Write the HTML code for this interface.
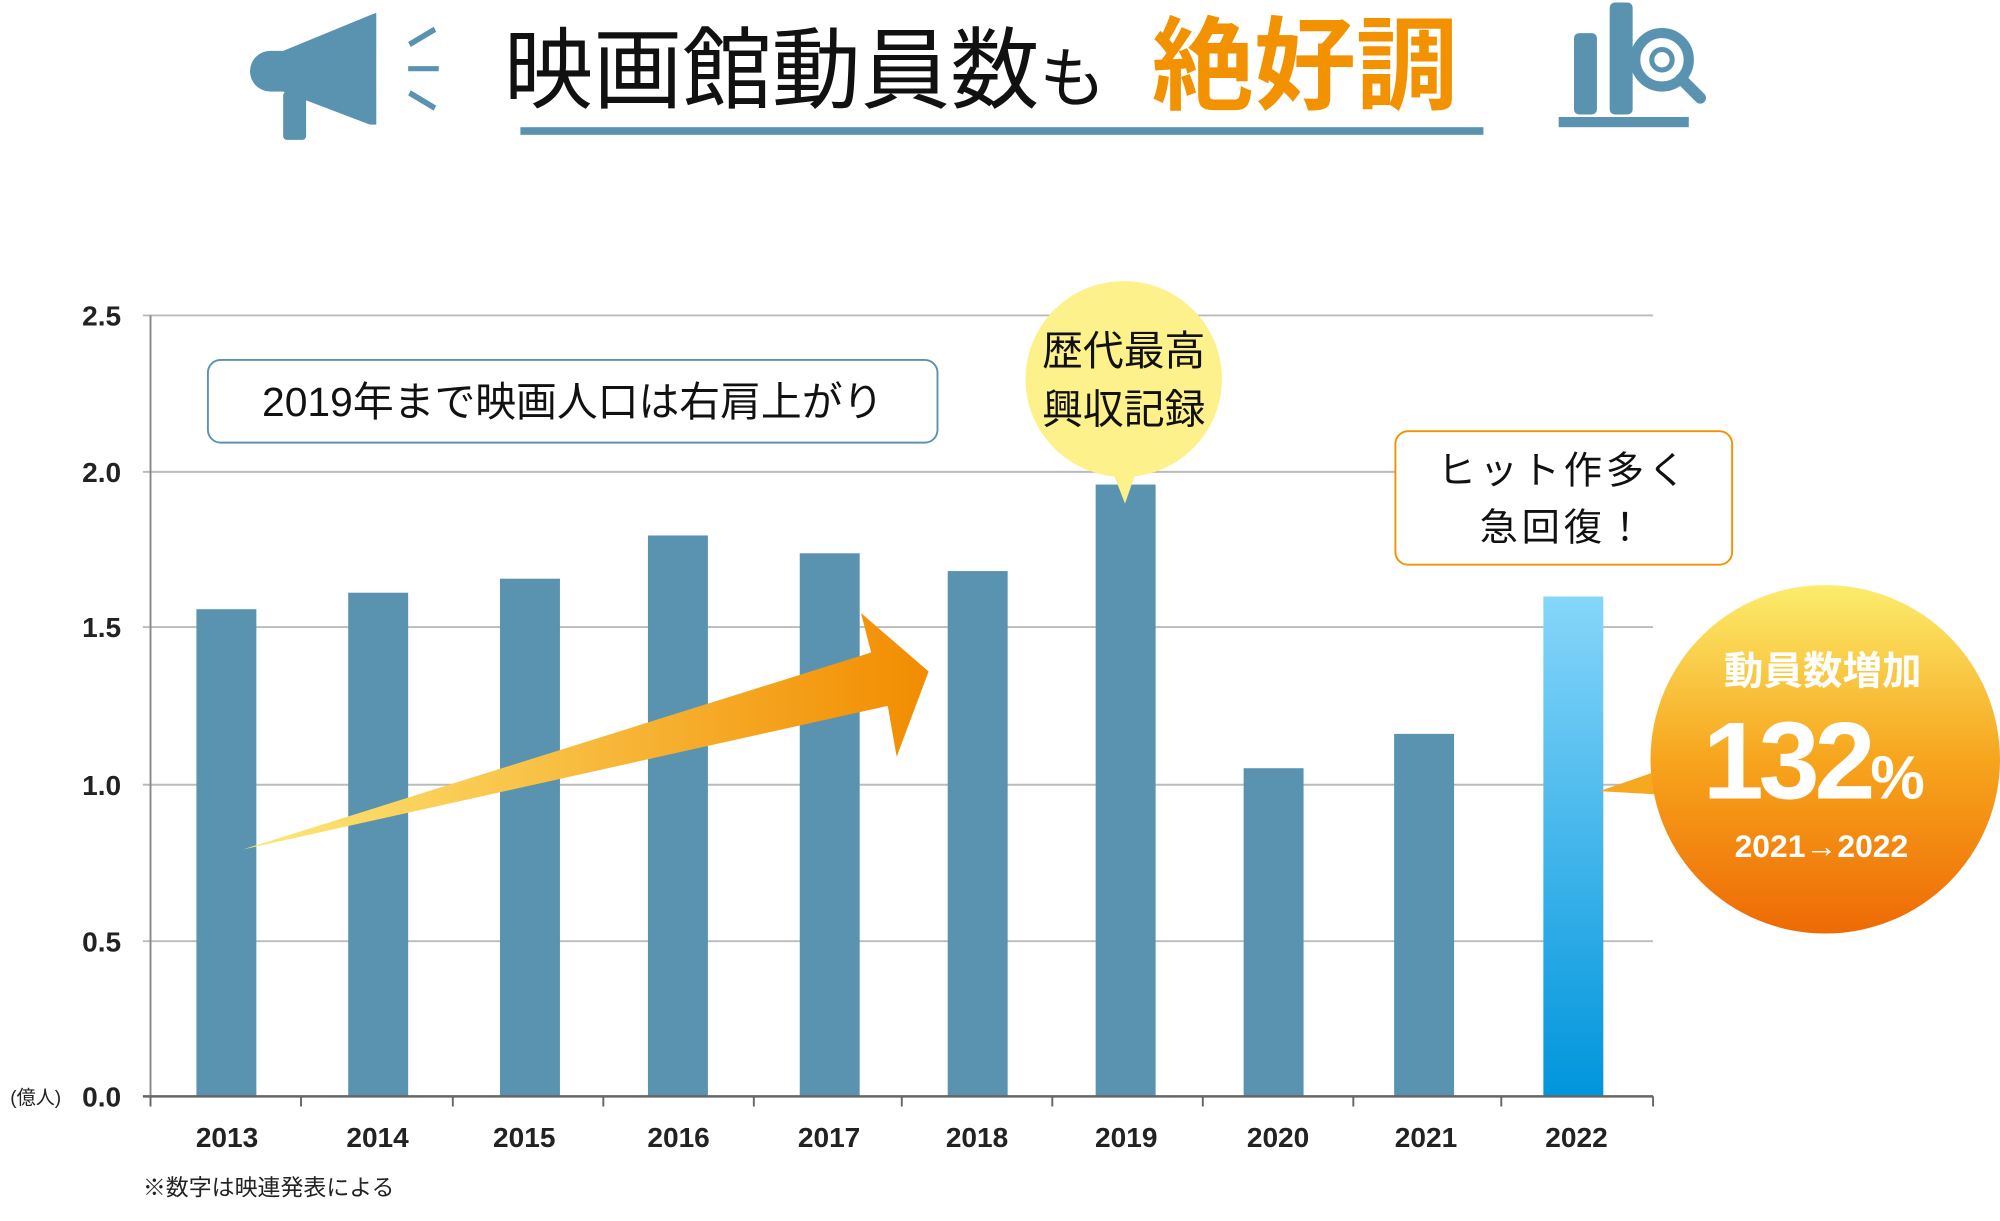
<!DOCTYPE html>
<html><head><meta charset="utf-8"><style>
html,body{margin:0;padding:0;background:#fff;width:2000px;height:1221px;overflow:hidden}
svg{display:block}
text{font-family:"Liberation Sans","Noto Sans CJK JP",sans-serif}
</style></head><body>
<svg width="2000" height="1221" viewBox="0 0 1568 960" preserveAspectRatio="none" xmlns="http://www.w3.org/2000/svg">
<defs>
<linearGradient id="arr" x1="0" y1="0" x2="1" y2="0"><stop offset="0" stop-color="#fde97a"/><stop offset="1" stop-color="#f28c00"/></linearGradient>
<linearGradient id="b22" x1="0" y1="0" x2="0" y2="1"><stop offset="0" stop-color="#86d6fa"/><stop offset="1" stop-color="#0095dc"/></linearGradient>
<linearGradient id="circ" x1="0" y1="0" x2="0" y2="1"><stop offset="0" stop-color="#fbed6c"/><stop offset="0.5" stop-color="#f7a51d"/><stop offset="1" stop-color="#ee6a05"/></linearGradient>
</defs>
<g fill="#5a93b0">
<path d="M222 40 L290 12 L295 10 L295 98 L290 98 L222 72 Z"/>
<circle cx="212" cy="56" r="16"/>
<rect x="212" y="40" width="20" height="32"/>
<rect x="222" y="72" width="18" height="38" rx="3"/>
<rect x="320" y="52" width="24" height="4"/>
<path d="M320 33 L340 21 L342 25 L322 37 Z"/>
<path d="M320 75 L340 87 L342 83 L322 71 Z"/>
<rect x="1234" y="26" width="18" height="64" rx="4"/>
<rect x="1262" y="2" width="18" height="88" rx="4"/>
<rect x="1222" y="92" width="102" height="8"/>
<rect x="408" y="100" width="755" height="6"/>
</g>
<circle cx="1303" cy="47" r="21" fill="#fff" stroke="#5a93b0" stroke-width="8"/>
<circle cx="1303" cy="47" r="8" fill="none" stroke="#5a93b0" stroke-width="4"/>
<path d="M1318 62 L1333 77" stroke="#5a93b0" stroke-width="9" stroke-linecap="round"/>
<text x="395" y="80" font-size="70" fill="#111">映画館動員数<tspan font-size="52">も</tspan></text>
<text x="903" y="80" font-size="80" font-weight="bold" fill="#f39200">絶好調</text>
<g stroke="#bbb" stroke-width="1.5">
<line x1="112" y1="248" x2="1296" y2="248"/><line x1="112" y1="371" x2="1296" y2="371"/>
<line x1="112" y1="493" x2="1296" y2="493"/><line x1="112" y1="617" x2="1296" y2="617"/>
<line x1="112" y1="740" x2="1296" y2="740"/>
</g>
<line x1="118" y1="248" x2="118" y2="862" stroke="#888" stroke-width="1.5"/>
<g fill="#222" font-size="22" font-weight="bold" text-anchor="end">
<text x="95" y="256">2.5</text><text x="95" y="379">2.0</text><text x="95" y="501">1.5</text>
<text x="95" y="625">1.0</text><text x="95" y="748">0.5</text><text x="95" y="870">0.0</text>
</g>
<text x="8" y="868" font-size="15" fill="#222">(億人)</text>
<g fill="#5a93b0">
<rect x="154" y="479" width="47" height="383"/><rect x="273" y="466" width="47" height="396"/>
<rect x="392" y="455" width="47" height="407"/><rect x="508" y="421" width="47" height="441"/>
<rect x="627" y="435" width="47" height="427"/><rect x="743" y="449" width="47" height="413"/>
<rect x="859" y="381" width="47" height="481"/><rect x="975" y="604" width="47" height="258"/>
<rect x="1093" y="577" width="47" height="285"/>
</g>
<rect x="1210" y="469" width="47" height="393" fill="url(#b22)"/>
<line x1="112" y1="862" x2="1296" y2="862" stroke="#666" stroke-width="2"/>
<g stroke="#666" stroke-width="1.5">
<line x1="118" y1="862" x2="118" y2="870"/><line x1="236" y1="862" x2="236" y2="870"/><line x1="355" y1="862" x2="355" y2="870"/><line x1="473" y1="862" x2="473" y2="870"/><line x1="591" y1="862" x2="591" y2="870"/><line x1="707" y1="862" x2="707" y2="870"/><line x1="825" y1="862" x2="825" y2="870"/><line x1="943" y1="862" x2="943" y2="870"/><line x1="1061" y1="862" x2="1061" y2="870"/><line x1="1177" y1="862" x2="1177" y2="870"/><line x1="1296" y1="862" x2="1296" y2="870"/>
</g>
<g fill="#222" font-size="22" font-weight="bold" text-anchor="middle">
<text x="178" y="902">2013</text><text x="296" y="902">2014</text><text x="411" y="902">2015</text><text x="532" y="902">2016</text><text x="650" y="902">2017</text><text x="766" y="902">2018</text><text x="883" y="902">2019</text><text x="1002" y="902">2020</text><text x="1118" y="902">2021</text><text x="1236" y="902">2022</text>
</g>
<text x="112" y="940" font-size="18" fill="#222">※数字は映連発表による</text>
<path d="M190 668 L696 555 L703 595 L728 528 L675 482 L683 513 Z" fill="url(#arr)"/>
<rect x="163" y="283" width="572" height="65" rx="10" fill="#fff" stroke="#5a93b0" stroke-width="1.5"/>
<text x="449" y="327" font-size="32" fill="#111" text-anchor="middle">2019年まで映画人口は右肩上がり</text>
<circle cx="881" cy="298" r="77" fill="#fcf18b"/>
<path d="M872 370 L882 396 L891 370 Z" fill="#fcf18b"/>
<text x="881" y="287" font-size="32" fill="#111" text-anchor="middle">歴代最高</text>
<text x="881" y="333" font-size="32" fill="#111" text-anchor="middle">興収記録</text>
<rect x="1094" y="339" width="264" height="105" rx="10" fill="#fff" stroke="#f39200" stroke-width="1.5"/>
<text x="1226" y="380" font-size="30" fill="#111" text-anchor="middle" letter-spacing="3">ヒット作多く</text>
<text x="1226" y="425" font-size="30" fill="#111" text-anchor="middle" letter-spacing="3">急回復！</text>
<path d="M1300 606 L1254 622 L1305 625 Z" fill="#f6a821"/>
<ellipse cx="1431" cy="597" rx="137" ry="137" fill="url(#circ)"/>
<text x="1429" y="538" font-size="31" font-weight="bold" fill="#fff" text-anchor="middle">動員数増加</text>
<text x="1420" y="628" font-size="86" font-weight="bold" fill="#fff" text-anchor="middle" letter-spacing="-4">132<tspan font-size="48">%</tspan></text>
<text x="1428" y="674" font-size="25" font-weight="bold" fill="#fff" text-anchor="middle">2021→2022</text>
</svg>
</body></html>
